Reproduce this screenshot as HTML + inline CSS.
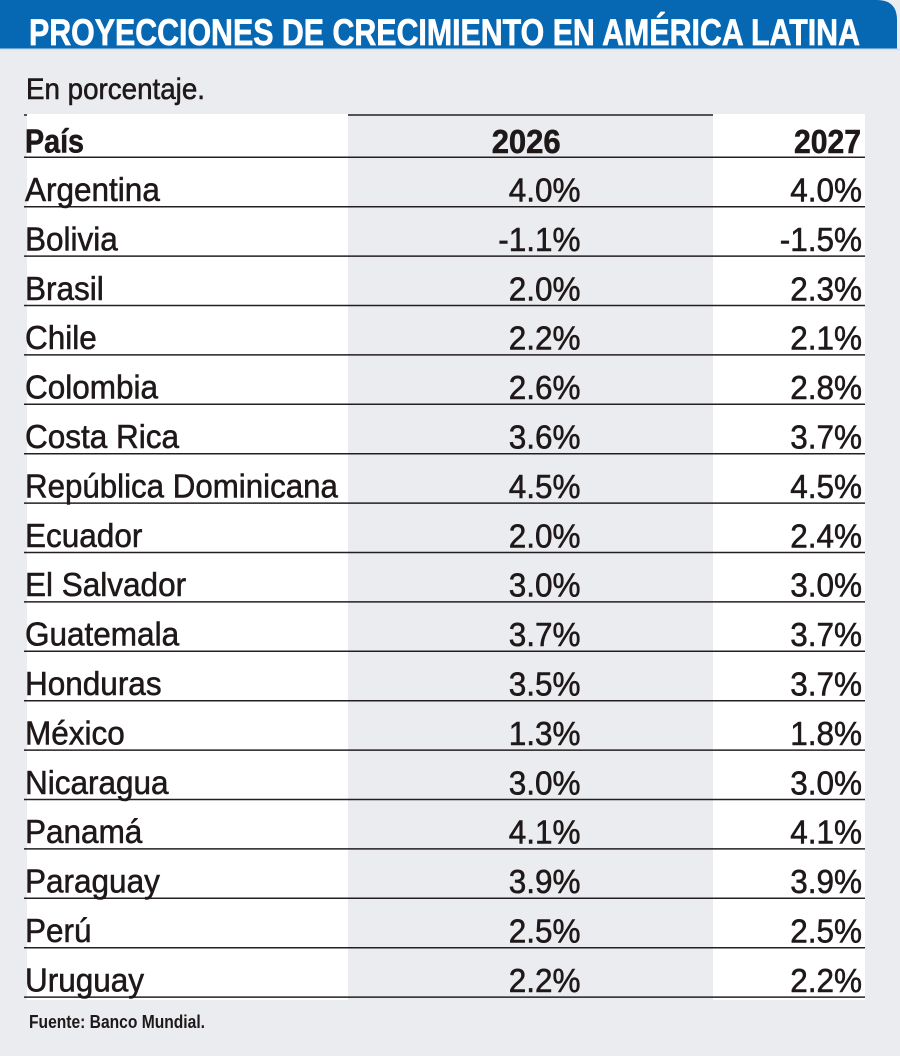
<!DOCTYPE html>
<html>
<head>
<meta charset="utf-8">
<style>
html,body{margin:0;padding:0;background:#ebecef;}
svg{display:block;}
text{font-family:"Liberation Sans",sans-serif;fill:#1e1819;}
.b{stroke:#1e1819;stroke-width:0.55;}
</style>
</head>
<body>
<svg width="900" height="1056" viewBox="0 0 900 1056" xmlns="http://www.w3.org/2000/svg">
<rect x="0" y="0" width="900" height="1056" fill="#ebecef"/>
<!-- header bar -->
<path d="M0 0 H877 Q897 0 897 20 V48.5 H0 Z" fill="#0667b3"/>
<rect x="0" y="48.5" width="900" height="1.6" fill="#cfe0f0"/>
<text x="29" y="45" font-size="37.5" font-weight="bold" textLength="831" lengthAdjust="spacingAndGlyphs" style="fill:#ffffff;stroke:#ffffff;stroke-width:0.7">PROYECCIONES DE CRECIMIENTO EN AMÉRICA LATINA</text>

<text class="b" x="26" y="99" font-size="30" textLength="179" lengthAdjust="spacingAndGlyphs">En porcentaje.</text>

<!-- top line -->
<line x1="24" y1="115" x2="713" y2="115" stroke="#231f20" stroke-width="1.4"/>
<!-- white columns -->
<rect x="27" y="114" width="321" height="886" fill="#ffffff"/>
<rect x="713" y="114" width="152" height="886" fill="#ffffff"/>

<!-- header -->
<text class="b" x="25" y="152.5" font-size="33" font-weight="bold" textLength="59" lengthAdjust="spacingAndGlyphs">País</text>
<text class="b" x="491.7" y="153" font-size="33" font-weight="bold" textLength="69" lengthAdjust="spacingAndGlyphs">2026</text>
<text class="b" x="794" y="153" font-size="33" font-weight="bold" textLength="67" lengthAdjust="spacingAndGlyphs">2027</text>

<!-- row lines -->
<g stroke="#231f20" stroke-width="1.5">
<line x1="24" y1="157.3" x2="865" y2="157.3"/>
<line x1="24" y1="206.7" x2="865" y2="206.7"/>
<line x1="24" y1="256.1" x2="865" y2="256.1"/>
<line x1="24" y1="305.5" x2="865" y2="305.5"/>
<line x1="24" y1="354.9" x2="865" y2="354.9"/>
<line x1="24" y1="404.3" x2="865" y2="404.3"/>
<line x1="24" y1="453.7" x2="865" y2="453.7"/>
<line x1="24" y1="503.1" x2="865" y2="503.1"/>
<line x1="24" y1="552.5" x2="865" y2="552.5"/>
<line x1="24" y1="601.9" x2="865" y2="601.9"/>
<line x1="24" y1="651.3" x2="865" y2="651.3"/>
<line x1="24" y1="700.7" x2="865" y2="700.7"/>
<line x1="24" y1="750.1" x2="865" y2="750.1"/>
<line x1="24" y1="799.5" x2="865" y2="799.5"/>
<line x1="24" y1="848.9" x2="865" y2="848.9"/>
<line x1="24" y1="898.3" x2="865" y2="898.3"/>
<line x1="24" y1="947.7" x2="865" y2="947.7"/>
<line x1="24" y1="997.1" x2="865" y2="997.1"/>
</g>

<!-- rows -->
<g font-size="33" class="b">
<text class="b" transform="translate(25,201) scale(0.955,1)">Argentina</text>
<text class="b" transform="translate(580.5,201.5) scale(0.955,1)" text-anchor="end">4.0%</text>
<text class="b" transform="translate(862,201.5) scale(0.955,1)" text-anchor="end">4.0%</text>

<text class="b" transform="translate(25,250.4) scale(0.955,1)">Bolivia</text>
<text class="b" transform="translate(580.5,250.9) scale(0.955,1)" text-anchor="end">-1.1%</text>
<text class="b" transform="translate(862,250.9) scale(0.955,1)" text-anchor="end">-1.5%</text>

<text class="b" transform="translate(25,299.8) scale(0.955,1)">Brasil</text>
<text class="b" transform="translate(580.5,300.3) scale(0.955,1)" text-anchor="end">2.0%</text>
<text class="b" transform="translate(862,300.3) scale(0.955,1)" text-anchor="end">2.3%</text>

<text class="b" transform="translate(25,349.2) scale(0.955,1)">Chile</text>
<text class="b" transform="translate(580.5,349.7) scale(0.955,1)" text-anchor="end">2.2%</text>
<text class="b" transform="translate(862,349.7) scale(0.955,1)" text-anchor="end">2.1%</text>

<text class="b" transform="translate(25,398.6) scale(0.955,1)">Colombia</text>
<text class="b" transform="translate(580.5,399.1) scale(0.955,1)" text-anchor="end">2.6%</text>
<text class="b" transform="translate(862,399.1) scale(0.955,1)" text-anchor="end">2.8%</text>

<text class="b" transform="translate(25,448) scale(0.955,1)">Costa Rica</text>
<text class="b" transform="translate(580.5,448.5) scale(0.955,1)" text-anchor="end">3.6%</text>
<text class="b" transform="translate(862,448.5) scale(0.955,1)" text-anchor="end">3.7%</text>

<text class="b" transform="translate(25,497.4) scale(0.948,1)">República Dominicana</text>
<text class="b" transform="translate(580.5,497.9) scale(0.955,1)" text-anchor="end">4.5%</text>
<text class="b" transform="translate(862,497.9) scale(0.955,1)" text-anchor="end">4.5%</text>

<text class="b" transform="translate(25,546.8) scale(0.955,1)">Ecuador</text>
<text class="b" transform="translate(580.5,547.3) scale(0.955,1)" text-anchor="end">2.0%</text>
<text class="b" transform="translate(862,547.3) scale(0.955,1)" text-anchor="end">2.4%</text>

<text class="b" transform="translate(25,596.2) scale(0.955,1)">El Salvador</text>
<text class="b" transform="translate(580.5,596.7) scale(0.955,1)" text-anchor="end">3.0%</text>
<text class="b" transform="translate(862,596.7) scale(0.955,1)" text-anchor="end">3.0%</text>

<text class="b" transform="translate(25,645.6) scale(0.955,1)">Guatemala</text>
<text class="b" transform="translate(580.5,646.1) scale(0.955,1)" text-anchor="end">3.7%</text>
<text class="b" transform="translate(862,646.1) scale(0.955,1)" text-anchor="end">3.7%</text>

<text class="b" transform="translate(25,695) scale(0.955,1)">Honduras</text>
<text class="b" transform="translate(580.5,695.5) scale(0.955,1)" text-anchor="end">3.5%</text>
<text class="b" transform="translate(862,695.5) scale(0.955,1)" text-anchor="end">3.7%</text>

<text class="b" transform="translate(25,744.4) scale(0.955,1)">México</text>
<text class="b" transform="translate(580.5,744.9) scale(0.955,1)" text-anchor="end">1.3%</text>
<text class="b" transform="translate(862,744.9) scale(0.955,1)" text-anchor="end">1.8%</text>

<text class="b" transform="translate(25,793.8) scale(0.955,1)">Nicaragua</text>
<text class="b" transform="translate(580.5,794.3) scale(0.955,1)" text-anchor="end">3.0%</text>
<text class="b" transform="translate(862,794.3) scale(0.955,1)" text-anchor="end">3.0%</text>

<text class="b" transform="translate(25,843.2) scale(0.955,1)">Panamá</text>
<text class="b" transform="translate(580.5,843.7) scale(0.955,1)" text-anchor="end">4.1%</text>
<text class="b" transform="translate(862,843.7) scale(0.955,1)" text-anchor="end">4.1%</text>

<text class="b" transform="translate(25,892.6) scale(0.955,1)">Paraguay</text>
<text class="b" transform="translate(580.5,893.1) scale(0.955,1)" text-anchor="end">3.9%</text>
<text class="b" transform="translate(862,893.1) scale(0.955,1)" text-anchor="end">3.9%</text>

<text class="b" transform="translate(25,942) scale(0.955,1)">Perú</text>
<text class="b" transform="translate(580.5,942.5) scale(0.955,1)" text-anchor="end">2.5%</text>
<text class="b" transform="translate(862,942.5) scale(0.955,1)" text-anchor="end">2.5%</text>

<text class="b" transform="translate(25,991.4) scale(0.955,1)">Uruguay</text>
<text class="b" transform="translate(580.5,991.9) scale(0.955,1)" text-anchor="end">2.2%</text>
<text class="b" transform="translate(862,991.9) scale(0.955,1)" text-anchor="end">2.2%</text>
</g>

<text x="29" y="1028" font-size="18" font-weight="bold" textLength="176" lengthAdjust="spacingAndGlyphs">Fuente: Banco Mundial.</text>
</svg>
</body>
</html>
